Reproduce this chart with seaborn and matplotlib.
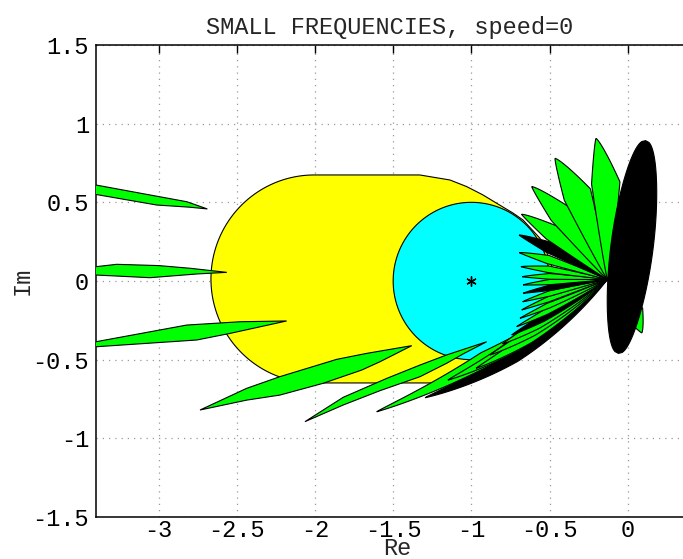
import numpy as np
import matplotlib
matplotlib.use("Agg")
import matplotlib.pyplot as plt
import seaborn as sns

# ---------------------------------------------------------------- data
TITLE = "SMALL FREQUENCIES, speed=0"
x_ticks = [-3, -2.5, -2, -1.5, -1, -0.5, 0]
x_tick_labels = ["-3", "-2.5", "-2", "-1.5", "-1", "-0.5", "0"]
y_ticks = [-1.5, -1, -0.5, 0, 0.5, 1, 1.5]
y_tick_labels = ["-1.5", "-1", "-0.5", "0", "0.5", "1", "1.5"]

critical_point = (-1.0, 0.0)
disc_center = (-1.0, 0.0)
disc_radius = 0.5

# yellow region: left cap circle + outline of its right part
cap_center = (-2.004, 0.013)
cap_radius = 0.661
yellow_right_x = [-1.33, -1.137, -1.03, -0.926, -0.838, -0.734, -0.670, -0.56,
                  -0.49, -0.47, -0.52, -0.65, -0.82, -1.0, -1.2, -1.33]
yellow_right_y = [0.674, 0.642, 0.600, 0.547, 0.494, 0.432, 0.388, 0.27,
                  0.12, -0.08, -0.28, -0.44, -0.56, -0.625, -0.648, -0.648]

# free-standing value sets (outline vertices)
free_sets_x = [
    [-3.5, -3.4, -3.1, -2.82, -2.688, -2.80, -3.012, -3.4, -3.5],
    [-3.5, -3.4, -3.268, -3.0, -2.799, -2.564, -2.75, -3.055, -3.4, -3.5],
    [-3.5, -3.4, -2.82, -2.479, -2.181, -2.543, -2.756, -3.4, -3.5],
    [-2.735, -2.436, -2.224, -1.861, -1.669, -1.381, -1.584, -1.701, -1.947, -2.224, -2.436],
    [-2.064, -1.819, -1.541, -1.328, -1.158, -0.902, -1.05, -1.158, -1.328, -1.584, -1.819],
]
free_sets_y = [
    [0.630, 0.610, 0.555, 0.504, 0.458, 0.469, 0.483, 0.550, 0.565],
    [0.090, 0.091, 0.106, 0.098, 0.081, 0.055, 0.045, 0.021, 0.038, 0.045],
    [-0.404, -0.386, -0.280, -0.259, -0.254, -0.333, -0.375, -0.418, -0.426],
    [-0.820, -0.682, -0.608, -0.498, -0.460, -0.411, -0.513, -0.566, -0.650, -0.725, -0.757],
    [-0.894, -0.739, -0.619, -0.534, -0.470, -0.386, -0.462, -0.523, -0.608, -0.697, -0.788],
]

# fan of value sets sharing one vertex (drawn back to front)
fan_hub = (-0.13, 0.01)
fan_tip_x = [0.09, -1.296, -1.605, -1.15, -0.97, -0.88, -0.80, -0.742, -0.71,
             -0.689, -0.678, -0.672, -0.669, -0.669, -0.674, -0.683, -0.693,
             -0.695, -0.679, -0.614, -0.465, -0.203]
fan_tip_y = [-0.33, -0.742, -0.831, -0.63, -0.555, -0.47, -0.40, -0.343, -0.29,
             -0.237, -0.184, -0.132, -0.078, -0.025, 0.027, 0.091, 0.180,
             0.292, 0.424, 0.600, 0.780, 0.907]
fan_width = [-0.09, 0.07, 0.07, 0.06, 0.05, 0.045, 0.04, 0.032, 0.026,
             0.024, 0.024, 0.024, 0.024, 0.024, 0.026, 0.03, 0.038,
             0.05, 0.075, 0.10, 0.13, 0.13]
fan_bend = [0.0, 0.10, 0.075, 0.06, 0.045, 0.035, 0.025, 0.018, 0.012,
            0.008, 0.0, 0.0, 0.0, 0.0, 0.0, 0.0, 0.0,
            0.0, 0.0, 0.0, 0.0, 0.0]
fan_peak = [0.68, 0.55, 0.55, 0.6, 0.62, 0.65, 0.68, 0.68, 0.68,
            0.68, 0.68, 0.68, 0.68, 0.68, 0.68, 0.68, 0.68,
            0.68, 0.68, 0.68, 0.68, 0.68]
fan_color = ["g", "k", "g", "g", "g", "g", "g", "k", "g",
             "g", "g", "g", "k", "g", "g", "g", "g",
             "k", "g", "g", "g", "g"]

# large black value set
blade_start = (-0.06, -0.46)
blade_end = (0.114, 0.892)
blade_halfwidth = 0.135

GREEN = "#00ff00"
YELLOW = "#ffff00"
CYAN = "#00ffff"
COLORS = {"g": GREEN, "k": "black"}


# ---------------------------------------------------------------- helpers
def petal(base, tip, hw, bend=0.0, lean=0.4, peak=0.68, n=120):
    """Kite-like lens from base to tip; one flank bulges more than the other."""
    t = np.linspace(0.0, 1.0, n)
    p0, p1 = np.asarray(base, float), np.asarray(tip, float)
    d = p1 - p0
    u = d / np.hypot(*d)
    nrm = np.array([-u[1], u[0]])
    center = p0 + np.outer(t, d) + np.outer(bend * 4 * t * (1 - t), nrm)
    kite = np.minimum(t / peak, (1 - t) / (1 - peak))
    w = hw * np.clip(kite, 0, 1) ** 0.8
    side_a = center - np.outer(w, nrm)
    side_b = center + np.outer(lean * w, nrm)
    return np.vstack([side_a, side_b[::-1]])


def blade(p_start, p_end, hw, power=0.45, n=160):
    t = np.linspace(0.0, 1.0, n)
    p0, p1 = np.asarray(p_start, float), np.asarray(p_end, float)
    d = p1 - p0
    u = d / np.hypot(*d)
    nrm = np.array([-u[1], u[0]])
    center = p0 + np.outer(t, d)
    w = hw * np.sin(np.pi * t) ** power
    return np.vstack([center + np.outer(w, nrm), (center - np.outer(w, nrm))[::-1]])


def circle_pts(c, r, a0=0, a1=2 * np.pi, n=200):
    a = np.linspace(a0, a1, n)
    return np.column_stack([c[0] + r * np.cos(a), c[1] + r * np.sin(a)])


# ---------------------------------------------------------------- figure
sns.set_theme(style="white")
plt.rcParams["font.family"] = ["Liberation Mono", "DejaVu Sans"]
plt.rcParams["axes.unicode_minus"] = False

W, H = 683, 559
fig = plt.figure(figsize=(W / 100, H / 100), dpi=100)
ax_left, ax_right, ax_top, ax_bottom = 96, 700, 45, 517
ax_w, ax_h = ax_right - ax_left, ax_bottom - ax_top
ax = fig.add_axes([ax_left / W, (H - ax_bottom) / H, ax_w / W, ax_h / H])
px_per_unit = 156.4
ax.set_xlim(-3.4, -3.4 + ax_w / px_per_unit)
ax.set_ylim(-1.5, 1.5)
ax.set_facecolor("white")

edge = dict(edgecolor="black", linewidth=0.8)

# yellow region
right = np.column_stack([yellow_right_x, yellow_right_y])
yellow_outline = np.vstack([
    right,
    circle_pts(cap_center, cap_radius, -np.pi / 2, -3 * np.pi / 2, 200),
    right[:1],
])
ax.fill(yellow_outline[:, 0], yellow_outline[:, 1], facecolor=YELLOW, zorder=2, **edge)

# cyan disc
disc = circle_pts(disc_center, disc_radius)
ax.fill(disc[:, 0], disc[:, 1], facecolor=CYAN, zorder=3, **edge)

# free value sets
for xs, ys in zip(free_sets_x, free_sets_y):
    ax.fill(xs, ys, facecolor=GREEN, zorder=4, **edge)

# fan
for tx, ty, hw, bd, pk, c in zip(fan_tip_x, fan_tip_y, fan_width, fan_bend,
                                 fan_peak, fan_color):
    pts = petal(fan_hub, (tx, ty), hw, bend=bd, peak=pk)
    ax.fill(pts[:, 0], pts[:, 1], facecolor=COLORS[c], zorder=5, **edge)

bl = blade(blade_start, blade_end, blade_halfwidth)
ax.fill(bl[:, 0], bl[:, 1], facecolor="black", zorder=6, **edge)

# critical point marker
sns.scatterplot(x=[critical_point[0]], y=[critical_point[1]], marker=(6, 2, 0),
                s=45, color="black", linewidth=1.0, ax=ax, zorder=7, legend=False)

# axes decoration
ax.set_xticks(x_ticks)
ax.set_xticklabels(x_tick_labels)
ax.set_yticks(y_ticks)
ax.set_yticklabels(y_tick_labels)
ax.grid(True, linestyle=(0, (1, 4)), color="#999999", linewidth=0.9)
ax.set_axisbelow(True)
ax.tick_params(direction="in", length=6, width=1, top=True, right=False,
               labelsize=17, colors="black")
ax.tick_params(axis="x", pad=1.5)
ax.tick_params(axis="y", pad=5)
for s in ["left", "bottom", "top"]:
    ax.spines[s].set_visible(True)
    ax.spines[s].set_color("black")
    ax.spines[s].set_linewidth(1.1)
ax.spines["right"].set_visible(False)

ax.set_title(TITLE, fontsize=17, pad=8, x=(390 - ax_left) / ax_w)
ax.set_xlabel("Re", fontsize=17)
ax.xaxis.set_label_coords((397 - ax_left) / ax_w, (ax_bottom - 537) / ax_h)
ax.set_ylabel("Im", fontsize=17)
ax.yaxis.set_label_coords((34 - ax_left) / ax_w, 0.5)

fig.savefig("out.png", dpi=100, facecolor="white")
